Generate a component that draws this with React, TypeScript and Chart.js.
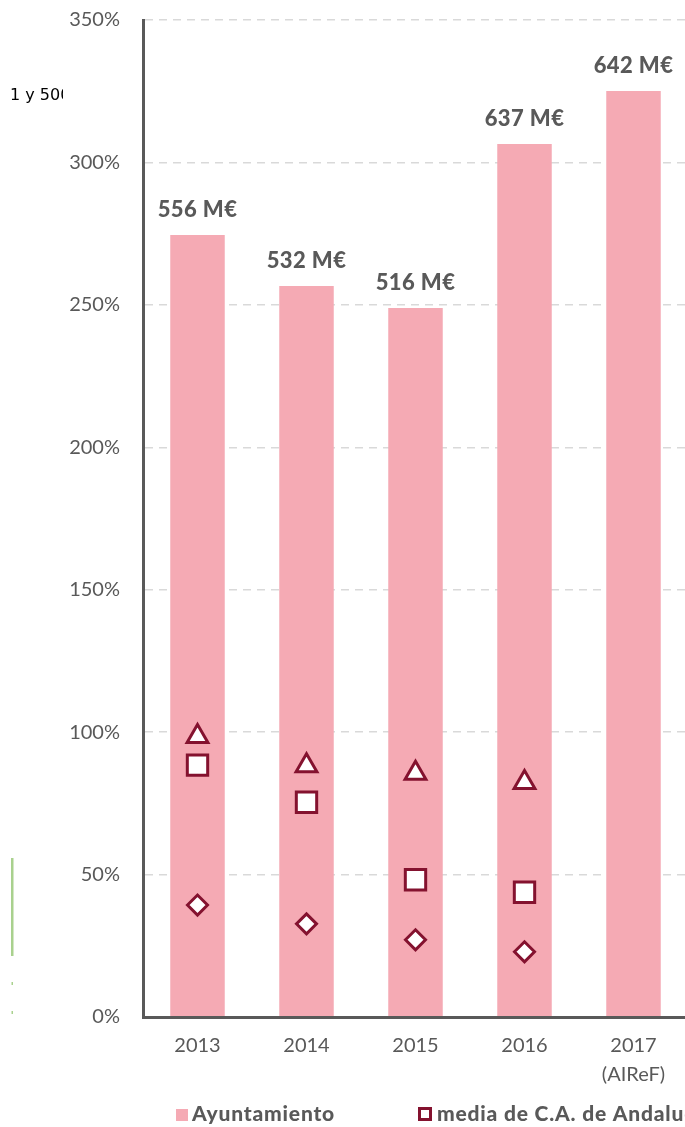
import React, { useEffect, useRef } from "react";
import { Chart, registerables } from "chart.js";

Chart.register(...registerables);

// ---- data ----
const categories: (string | string[])[] = ["2013", "2014", "2015", "2016", ["2017", "(AIReF)"]];
const ayuntamiento = [274.5, 256.6, 248.9, 306.5, 325.1];
const ayuntamientoLabels = ["556 M€", "532 M€", "516 M€", "637 M€", "642 M€"];
const mediaTramo = [98.5, 88.2, 85.6, 82.3, null];
const mediaCCAA = [88.4, 75.4, 48.2, 43.8, null];
const mediana = [39.3, 32.7, 27.1, 22.9, null];
const yMin = 0;
const yMax = 350;
const yStep = 50;
const legendNames = ["Ayuntamiento", "media de C.A. de Andalucía"];
const sideText = "1 y 500.000";

// ---- styles ----
const PINK = "#f5aab4";
const MAROON = "#84122f";
const GRAY = "#595959";
const FONT = "Lato, 'Open Sans', sans-serif";

const overlayPlugin = {
  id: "overlay",
  afterDraw(chart: any) {
    const ctx = chart.ctx;
    ctx.save();
    // bar value labels
    const meta = chart.getDatasetMeta(0);
    ctx.font = `900 22px ${FONT}`;
    (ctx as any).letterSpacing = "0.4px";
    ctx.fillStyle = GRAY;
    ctx.textAlign = "center";
    ctx.textBaseline = "middle";
    meta.data.forEach((bar: any, i: number) => {
      ctx.fillText(ayuntamientoLabels[i], bar.x, bar.y - 25);
    });
    // legend
    ctx.textAlign = "left";
    ctx.textBaseline = "alphabetic";
    ctx.font = `900 21px ${FONT}`;
    (ctx as any).letterSpacing = "0.8px";
    ctx.fillStyle = PINK;
    ctx.fillRect(176, 1109, 12, 12);
    ctx.fillStyle = GRAY;
    ctx.fillText(legendNames[0], 192, 1121);
    ctx.fillStyle = "#ffffff";
    ctx.fillRect(419.5, 1108.5, 11, 11);
    ctx.strokeStyle = MAROON;
    ctx.lineWidth = 3;
    ctx.strokeRect(419.5, 1108.5, 11, 11);
    ctx.fillStyle = GRAY;
    ctx.fillText(legendNames[1], 437, 1121);
    (ctx as any).letterSpacing = "0px";
    // clipped side text
    ctx.save();
    ctx.beginPath();
    ctx.rect(10, 70, 53, 40);
    ctx.clip();
    ctx.font = `16px 'DejaVu Sans', sans-serif`;
    ctx.fillStyle = "#000000";
    ctx.fillText(sideText, 10, 100);
    ctx.restore();
    // green line fragment
    ctx.fillStyle = "#a9d18e";
    ctx.fillRect(11, 858, 2.5, 98);
    ctx.fillRect(11.5, 982, 1.5, 3);
    ctx.fillRect(11.5, 1011, 1.5, 3);
    ctx.restore();
  },
};

export default function App() {
  const ref = useRef<HTMLCanvasElement | null>(null);
  useEffect(() => {
    if (!ref.current) return;
    const pointDs = (label: string, data: (number | null)[], style: string, r: number) => ({
      type: "line" as const,
      label,
      data,
      showLine: false,
      pointStyle: style,
      pointRadius: r,
      pointHoverRadius: r,
      pointBorderWidth: 3,
      pointBackgroundColor: "#ffffff",
      pointBorderColor: MAROON,
      borderColor: MAROON,
      backgroundColor: "#ffffff",
      order: 1,
    });
    const chart = new Chart(ref.current, {
      type: "bar",
      data: {
        labels: categories,
        datasets: [
          {
            type: "bar",
            label: legendNames[0],
            data: ayuntamiento,
            backgroundColor: PINK,
            borderWidth: 0,
            barPercentage: 1,
            categoryPercentage: 0.5,
            order: 10,
          },
          pointDs("media tramo de población", mediaTramo, "triangle", 12),
          pointDs(legendNames[1], mediaCCAA, "rect", 14.4),
          pointDs("mediana", mediana, "rectRot", 10),
        ] as any,
      },
      options: {
        animation: false,
        responsive: false,
        layout: { autoPadding: false, padding: { top: 20, right: 0, bottom: 0, left: 0 } },
        plugins: { legend: { display: false }, tooltip: { enabled: false } },
        scales: {
          x: {
            grid: {
              display: true,
              drawOnChartArea: false,
              drawTicks: true,
              tickLength: 14,
              tickColor: "rgba(0,0,0,0)",
              color: "rgba(0,0,0,0)",
            },
            border: { display: true, color: GRAY, width: 3, z: 1 },
            ticks: {
              color: GRAY,
              font: { family: FONT, size: 20, lineHeight: 1.45 },
              padding: 0,
              maxRotation: 0,
            },
            afterFit: (s: any) => {
              s.height = 110;
            },
          },
          y: {
            min: yMin,
            max: yMax,
            grid: {
              color: "#d9d9d9",
              lineWidth: 1.5,
              drawTicks: true,
              tickLength: 23,
              tickColor: "rgba(0,0,0,0)",
            },
            border: { display: true, color: GRAY, width: 3, dash: [8, 6], z: 1 },
            ticks: {
              stepSize: yStep,
              color: GRAY,
              font: { family: FONT, size: 20 },
              padding: 0,
              callback: (v: any) => `${v}%`,
            },
            afterFit: (s: any) => {
              s.width = 143;
            },
          },
        },
      },
      plugins: [overlayPlugin],
    });
    return () => chart.destroy();
  }, []);
  return (
    <div
      style={{
        position: "absolute",
        left: 0,
        top: 0,
        width: 685,
        height: 1127,
        overflow: "hidden",
        background: "#ffffff",
      }}
    >
      <canvas ref={ref} width={688} height={1127} style={{ display: "block" }} />
    </div>
  );
}
